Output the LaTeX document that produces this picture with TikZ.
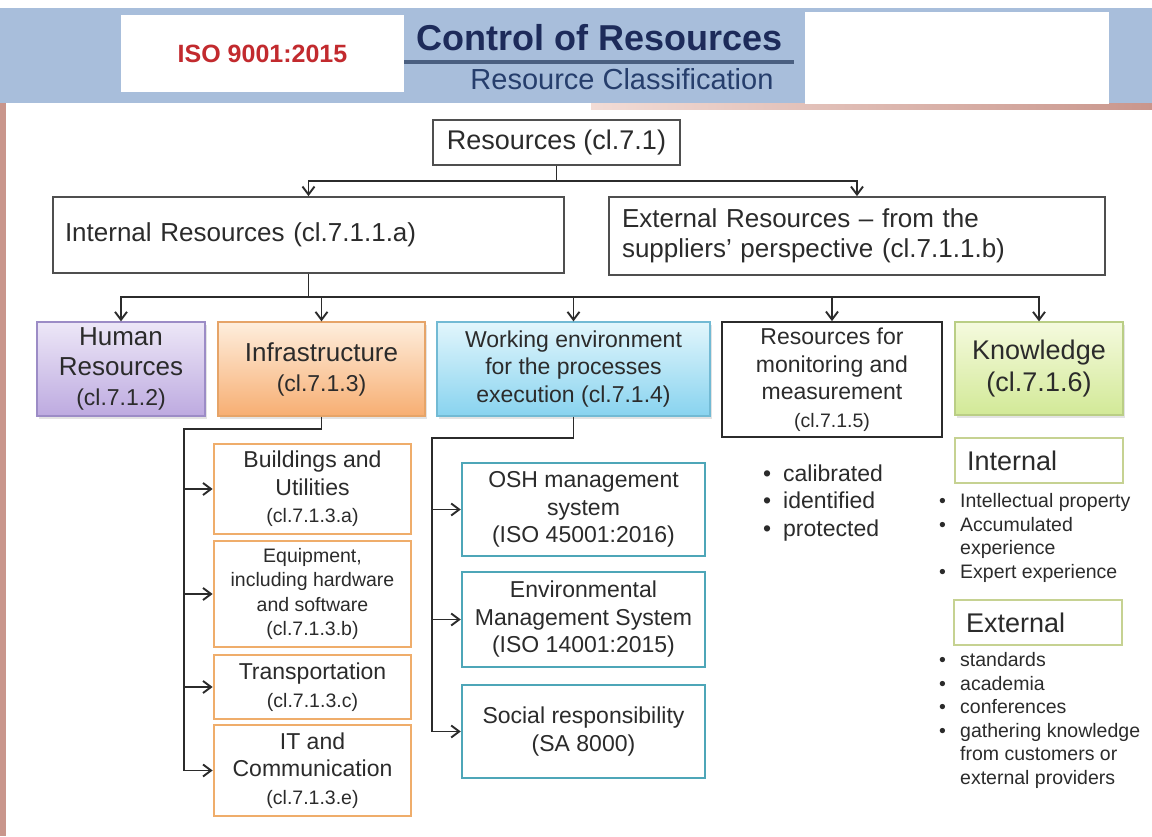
\documentclass[tikz,border=0pt]{standalone}
\usepackage{fontspec}
\setmainfont{Liberation Sans}
\usepackage{xcolor}
\definecolor{Band}{HTML}{A8BEDB}
\definecolor{IsoRed}{HTML}{C22A2E}
\definecolor{TitleNavy}{HTML}{1D2B5A}
\definecolor{SubNavy}{HTML}{263E6C}
\definecolor{RuleSlate}{HTML}{4A5F80}
\definecolor{Ink}{HTML}{2B2B2B}
\definecolor{Edge}{HTML}{4F4F4F}
\definecolor{Rose}{HTML}{C9968C}
\definecolor{RoseLight}{HTML}{F2DCD6}
\definecolor{HrTop}{HTML}{EDE7F7}
\definecolor{HrBot}{HTML}{BDAAE0}
\definecolor{HrEdge}{HTML}{9C8CC6}
\definecolor{InfTop}{HTML}{FEEEDD}
\definecolor{InfBot}{HTML}{F7AE72}
\definecolor{InfEdge}{HTML}{E6A468}
\definecolor{WrkTop}{HTML}{E2F6FC}
\definecolor{WrkBot}{HTML}{88D3EF}
\definecolor{WrkEdge}{HTML}{72BAD4}
\definecolor{KnoTop}{HTML}{F5FADE}
\definecolor{KnoBot}{HTML}{D2E997}
\definecolor{KnoEdge}{HTML}{BACE85}
\definecolor{InfLine}{HTML}{EFAD6B}
\definecolor{WrkLine}{HTML}{4EA6B8}
\definecolor{KnoLine}{HTML}{C6D292}
\usepackage{tikz}
\usetikzlibrary{arrows.meta,shadows}

\newcommand\fsA{\fontsize{27}{32}\selectfont}
\newcommand\fsB{\fontsize{26}{30}\selectfont}
\newcommand\fsC{\fontsize{23}{27.5}\selectfont}
\newcommand\fsD{\fontsize{19.5}{23.6}\selectfont}
\newcommand\bul{\makebox[20pt][l]{\textbullet}}
\newcommand\kbul{\makebox[21pt][l]{\textbullet}}

\tikzset{
  topbox/.style={draw=Edge,line width=1.8pt,fill=white,inner sep=0pt},
  lvlbox/.style={line width=1.2pt,inner sep=0pt,minimum height=94pt,
    drop shadow={opacity=0.22,shadow xshift=1.5pt,shadow yshift=-2.5pt}},
  infsub/.style={draw=InfLine,line width=2.8pt,fill=white,inner sep=0pt,minimum width=197pt},
  envsub/.style={draw=WrkLine,line width=2.4pt,fill=white,inner sep=0pt,minimum width=243pt},
  knosub/.style={draw=KnoLine,line width=2.4pt,fill=white,inner sep=0pt,minimum width=168pt,
    minimum height=45pt,font=\fsA,align=left,text width=144pt},
  bullist/.style={anchor=west,align=left,inner sep=0pt},
  wire/.style={draw=Ink,line width=1.9pt},
  wirearr/.style={wire,-{Straight Barb[length=8pt,width=12pt]}}
}

\begin{document}
\begin{tikzpicture}[x=1pt,y=-1pt,every node/.style={font=\fsB,text=Ink,align=center}]
\useasboundingbox (0,0) rectangle (1152,836);
% header band
\fill[white] (0,0) rectangle (1152,836);
\fill[Band] (0,8) rectangle (1152,103);
\shade[left color=RoseLight,right color=Rose] (591,103) rectangle (1152,109);
\fill[Rose] (0,103) rectangle (6,836);
\fill[white] (805,12) rectangle (1109,104);
\node[fill=white,inner sep=0pt,minimum width=283pt,minimum height=77pt,text=IsoRed,
  font=\fontsize{25}{29}\selectfont\bfseries] (iso) at (262.5,53.5) {ISO 9001:2015};
\node[text=TitleNavy,font=\fontsize{36}{40}\selectfont\bfseries] (ttl) at (600,38) {Control of Resources};
\draw[RuleSlate,line width=3.5pt] (404,62) -- (794,62);
\node[text=SubNavy,font=\fontsize{29}{33}\selectfont] (sub) at (622,79) {Resource Classification};

% top levels
\node[topbox,font=\fsA,minimum width=247pt,minimum height=45pt] (res) at (556.5,142.5) {Resources (cl.7.1)};
\node[topbox,minimum width=511pt,minimum height=76pt,text width=487pt,align=left] (int) at (308.5,235) {Internal Resources (cl.7.1.1.a)};
\node[topbox,minimum width=496pt,minimum height=78pt,text width=470pt,align=left] (ext) at (857,236) {External Resources – from the\\suppliers’ perspective (cl.7.1.1.b)};

% second level
\node[lvlbox,draw=HrEdge,top color=HrTop,bottom color=HrBot,minimum width=168pt] (hr) at (121,369) {Human\\Resources\\{\fsC (cl.7.1.2)}};
\node[lvlbox,draw=InfEdge,top color=InfTop,bottom color=InfBot,minimum width=207pt] (inf) at (321.5,369) {Infrastructure\\{\fsC (cl.7.1.3)}};
\node[lvlbox,draw=WrkEdge,top color=WrkTop,bottom color=WrkBot,minimum width=273pt,font=\fsC] (wrk) at (573.5,369) {Working environment\\for the processes\\execution (cl.7.1.4)};
\node[topbox,draw=Ink,minimum width=220pt,minimum height=115pt,font=\fsC] (mon) at (832,379.5) {Resources for\\monitoring and\\measurement\\{\fsD (cl.7.1.5)}};
\node[lvlbox,draw=KnoEdge,top color=KnoTop,bottom color=KnoBot,minimum width=168pt,minimum height=93pt,font=\fsA] (kno) at (1039,368.5) {Knowledge\\(cl.7.1.6)};

% infrastructure items
\node[infsub,minimum height=90pt,font=\fsC] (bld) at (312.5,489) {Buildings and\\Utilities\\{\fsD (cl.7.1.3.a)}};
\node[infsub,minimum height=106pt,font=\fontsize{19.5}{24.6}\selectfont] (eqp) at (312.5,594) {Equipment,\\including hardware\\and software\\(cl.7.1.3.b)};
\node[infsub,minimum height=64pt,font=\fsC] (trn) at (312.5,687) {Transportation\\{\fsD (cl.7.1.3.c)}};
\node[infsub,minimum height=91pt,font=\fsC] (itc) at (312.5,770.5) {IT and\\Communication\\{\fsD (cl.7.1.3.e)}};

% working environment items
\node[envsub,minimum height=93pt,font=\fsC] (osh) at (583.5,509.5) {OSH management\\system\\(ISO 45001:2016)};
\node[envsub,minimum height=95pt,font=\fsC] (ems) at (583.5,619.5) {Environmental\\Management System\\(ISO 14001:2015)};
\node[envsub,minimum height=93pt,font=\fsC] (soc) at (583.5,731.5) {Social responsibility\\(SA 8000)};

% monitoring list
\node[bullist,font=\fsC] (monlist) at (763,503) {\bul calibrated\\\bul identified\\\bul protected};

% knowledge items
\node[knosub] (kin) at (1039,460.5) {Internal};
\node[bullist,font=\fsD] (kinlist) at (939,538) {\kbul Intellectual property\\\kbul Accumulated\\\hspace*{21pt}experience\\\kbul Expert experience};
\node[knosub] (kex) at (1038,622.5) {External};
\node[bullist,font=\fsD] (kexlist) at (939,720.5) {\kbul standards\\\kbul academia\\\kbul conferences\\\kbul gathering knowledge\\\hspace*{21pt}from customers or\\\hspace*{21pt}external providers};

% connectors
\coordinate (bus1) at (557,181);
\coordinate (bus2) at (310,297);
\coordinate (ibend) at (184,429);
\coordinate (wbend) at (432,438);
\draw[wire] (res.south) -- (res.south |- bus1);
\draw[wirearr] (res.south |- bus1) -| (int.north);
\draw[wirearr] (res.south |- bus1) -| (ext.north);
\draw[wire] (int.south) -- (int.south |- bus2);
\draw[wirearr] (int.south |- bus2) -| (hr.north);
\draw[wirearr] (int.south |- bus2) -| (inf.north);
\draw[wirearr] (int.south |- bus2) -| (wrk.north);
\draw[wirearr] (int.south |- bus2) -| (mon.north);
\draw[wirearr] (int.south |- bus2) -| (kno.north);
\draw[wire] (inf.south) |- (ibend) -- (ibend |- itc.west);
\draw[wirearr] (ibend |- bld.west) -- (bld.west);
\draw[wirearr] (ibend |- eqp.west) -- (eqp.west);
\draw[wirearr] (ibend |- trn.west) -- (trn.west);
\draw[wirearr] (ibend |- itc.west) -- (itc.west);
\draw[wire] (wrk.south) |- (wbend) -- (wbend |- soc.west);
\draw[wirearr] (wbend |- osh.west) -- (osh.west);
\draw[wirearr] (wbend |- ems.west) -- (ems.west);
\draw[wirearr] (wbend |- soc.west) -- (soc.west);
\end{tikzpicture}
\end{document}
